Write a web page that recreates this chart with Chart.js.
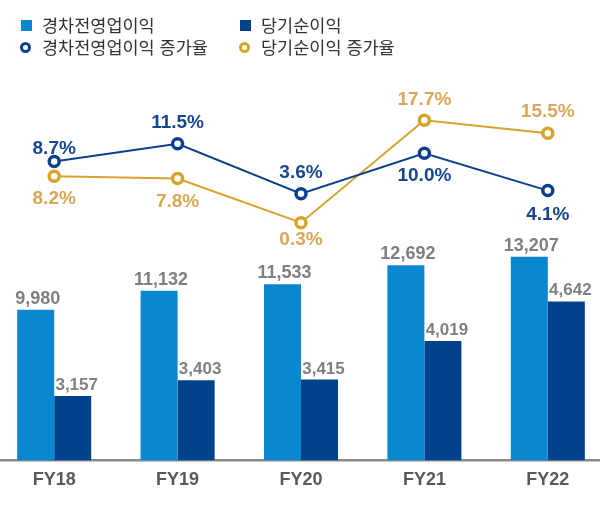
<!DOCTYPE html>
<html lang="ko">
<head>
  <meta charset="UTF-8">
  <title>경차전영업이익 / 당기순이익</title>
  <script src="https://cdn.jsdelivr.net/npm/chart.js"></script>
  <style>
    html, body { margin: 0; padding: 0; background: #fff; overflow: hidden; }
    #wrap { position: relative; width: 600px; height: 506px; overflow: hidden; }
    #chart { position: absolute; left: -16px; top: 0; }
    .lg { position: absolute; height: 22px; line-height: 22px; font-family: "Noto Sans CJK KR", sans-serif; font-size: 17.5px; color: #333; white-space: nowrap; }
    .sq { position: absolute; width: 11px; height: 11px; }
    .ring { position: absolute; width: 5px; height: 5px; border: 3px solid; border-radius: 50%; background: #fff; }
  </style>
</head>
<body>
  <div id="wrap">
    <canvas id="chart" width="634" height="506"></canvas>
    <span class="sq" style="left:21px;top:20px;background:#0b86d0"></span>
    <div class="lg" style="left:42px;top:14px">경차전영업이익</div>
    <span class="sq" style="left:240px;top:20px;background:#00428c"></span>
    <div class="lg" style="left:261px;top:14px">당기순이익</div>
    <span class="ring" style="left:20px;top:42px;border-color:#0d408c"></span>
    <div class="lg" style="left:42px;top:36px">경차전영업이익 증가율</div>
    <span class="ring" style="left:239px;top:42px;border-color:#d6a42c"></span>
    <div class="lg" style="left:261px;top:36px">당기순이익 증가율</div>
  </div>
  <script>
    const years = ["FY18", "FY19", "FY20", "FY21", "FY22"];
    const opProfit = [9980, 11132, 11533, 12692, 13207];
    const netProfit = [3157, 3403, 3415, 4019, 4642];
    const opGrowth = [8.7, 11.5, 3.6, 10.0, 4.1];
    const netGrowth = [8.2, 7.8, 0.3, 17.7, 15.5];

    // label offsets (px) from each point: negative = above
    const opGrowthDy = [-13, -21, -21, 23, 24];
    const netGrowthDy = [23, 23, 17, -21, -21];

    const labelPlugin = {
      id: 'labelPlugin',
      afterDatasetsDraw(chart) {
        const ctx = chart.ctx;
        ctx.save();
        ctx.textAlign = 'center';
        chart.data.datasets.forEach((ds, i) => {
          const meta = chart.getDatasetMeta(i);
          ctx.fillStyle = ds.labelColor;
          ctx.font = ds.labelFont;
          meta.data.forEach((el, j) => {
            const v = ds.data[j];
            if (ds.type === 'bar') {
              ctx.textBaseline = 'alphabetic';
              ctx.fillText(v.toLocaleString('en-US'), el.x + ds.labelDx, el.y - 6);
            } else {
              ctx.textBaseline = 'middle';
              ctx.fillText(v.toFixed(1) + '%', el.x, el.y + ds.labelDy[j]);
            }
          });
        });
        ctx.restore();
      }
    };

    new Chart(document.getElementById('chart'), {
      data: {
        labels: years,
        datasets: [
          {
            type: 'line', data: opGrowth, yAxisID: 'yB', order: 0,
            borderColor: '#0d408c', borderWidth: 2,
            pointRadius: 5, pointBorderWidth: 3.5, pointBackgroundColor: '#fff', pointBorderColor: '#0d408c',
            labelColor: '#17468f', labelFont: 'bold 19px "Liberation Sans", Arial, sans-serif', labelDy: opGrowthDy
          },
          {
            type: 'line', data: netGrowth, yAxisID: 'yG', order: 0,
            borderColor: '#d6a42c', borderWidth: 2,
            pointRadius: 5, pointBorderWidth: 3.5, pointBackgroundColor: '#fff', pointBorderColor: '#d6a42c',
            labelColor: '#d8a858', labelFont: 'bold 19px "Liberation Sans", Arial, sans-serif', labelDy: netGrowthDy
          },
          {
            type: 'bar', data: opProfit, yAxisID: 'yL', order: 1,
            backgroundColor: '#0b86d0', borderWidth: 0,
            barPercentage: 1, categoryPercentage: 0.6,
            labelColor: '#7f7f7f', labelFont: 'bold 18px "Liberation Sans", Arial, sans-serif', labelDx: 2
          },
          {
            type: 'bar', data: netProfit, yAxisID: 'yD', order: 1,
            backgroundColor: '#00428c', borderWidth: 0,
            barPercentage: 1, categoryPercentage: 0.6,
            labelColor: '#7f7f7f', labelFont: 'bold 17px "Liberation Sans", Arial, sans-serif', labelDx: 4
          }
        ]
      },
      options: {
        responsive: false,
        animation: false,
        layout: { padding: { top: 80, bottom: 6, left: 0, right: 0 } },
        plugins: { legend: { display: false }, tooltip: { enabled: false } },
        scales: {
          x: {
            grid: { display: false, drawTicks: false },
            border: { display: true, color: '#8c8c8c', width: 2.5 },
            ticks: { color: '#595959', padding: 10, font: { family: '"Liberation Sans", Arial, sans-serif', size: 18, weight: 'bold', lineHeight: 1.1 } }
          },
          yL: { display: false, min: 808, max: 23983 },
          yD: { display: false, min: 2146, max: 8125 },
          yB: { display: false, min: -38.47, max: 21.56 },
          yG: { display: false, min: -40.04, max: 24.54 }
        }
      },
      plugins: [labelPlugin]
    });
  </script>
</body>
</html>
